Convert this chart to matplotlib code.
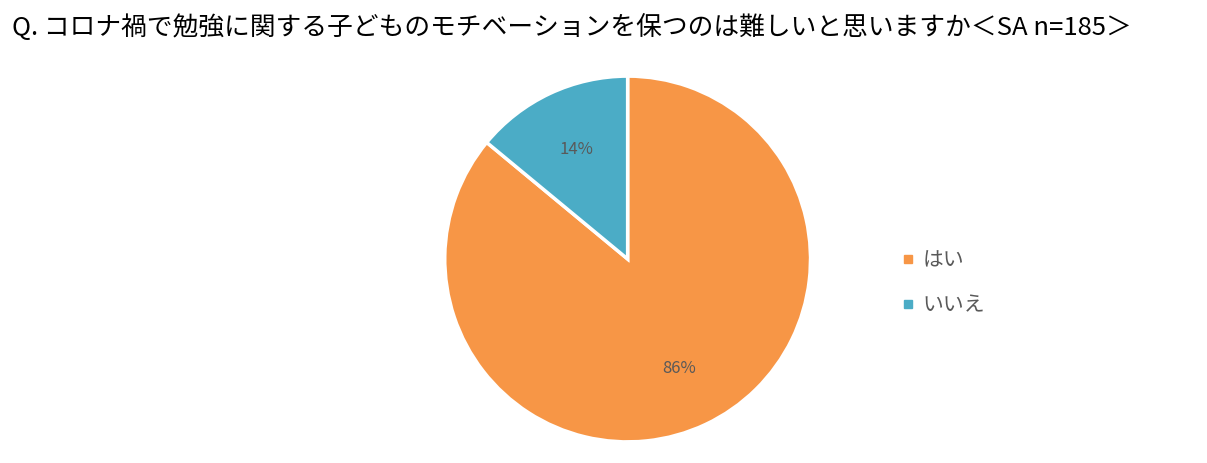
import matplotlib
matplotlib.use("Agg")
import matplotlib.pyplot as plt
from matplotlib.lines import Line2D

plt.rcParams['font.family'] = ['Noto Sans CJK JP', 'DejaVu Sans']

labels = ["はい", "いいえ"]
values = [86, 14]
colors = ["#F79646", "#4BACC6"]

fig = plt.figure(figsize=(12.07, 4.63), dpi=100)
ax = fig.add_axes([0.520 - 0.1516, 0.4406 - 0.395, 0.3032, 0.79])
ax.pie(values, colors=colors, startangle=90, counterclock=False,
       autopct="%d%%", pctdistance=0.66,
       wedgeprops=dict(edgecolor="white", linewidth=2.5),
       textprops=dict(color="#595959", fontsize=12))
ax.set_xlim(-1.0, 1.0)
ax.set_ylim(-1.0, 1.0)
ax.set_aspect("equal")

fig.text(0.01, 0.94, "Q. コロナ禍で勉強に関する子どものモチベーションを保つのは難しいと思いますか＜SA n=185＞",
         fontsize=18.5, color="black", va="center")

handles = [Line2D([], [], marker="s", linestyle="", color=c, markersize=6) for c in colors]
fig.legend(handles, labels, loc="center left", bbox_to_anchor=(0.73, 0.39),
           frameon=False, fontsize=15, labelcolor="#595959",
           handlelength=0.8, handletextpad=0.3, labelspacing=1.1)

fig.savefig("out.png", dpi=100)
